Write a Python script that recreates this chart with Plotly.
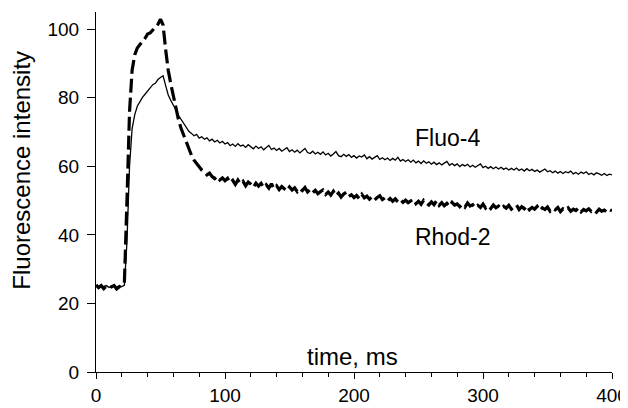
import plotly.graph_objects as go

# sampling grid (ms)
time_ms = list(range(0, 401, 2))

# Fluo-4 trace
fluo_rise = [25.3, 24.8, 25.1, 24.9, 25.2, 24.7, 25.0, 25.3, 24.8, 25.1, 24.9,
             25.3, 38.0, 60.0, 71.0, 75.0, 77.5, 78.9, 80.1, 81.0, 81.9,
             82.6, 83.8, 84.2, 85.3, 85.9, 86.4, 83.5, 80.8, 79.2, 77.9,
             76.4, 74.8, 73.6, 72.3, 71.4, 70.2, 69.6, 68.9, 69.3, 68.2,
             68.6, 67.9, 68.3, 67.4, 67.9, 67.1, 67.6, 66.8, 67.3, 66.5]
fluo_tail1 = [66.9, 66.0, 66.5, 65.8, 66.6, 65.9, 66.2, 65.5, 66.3, 65.6,
              65.1, 65.9, 65.2, 65.7, 64.8, 65.5, 66.1, 64.9, 65.3, 64.6,
              65.2, 64.4, 64.9, 65.4, 64.3, 64.8, 64.1, 64.7, 63.9, 64.5,
              65.2, 64.0, 63.7, 64.4, 63.6, 64.1, 63.5]
fluo_tail2 = [64.2, 63.3, 63.8, 63.0, 63.6, 64.3, 63.1, 62.8, 63.5, 62.9,
              63.4, 62.6, 63.1, 62.4, 63.0, 62.7, 63.3, 62.2, 62.8, 62.1,
              62.6, 63.1, 62.0, 62.5, 61.9, 62.4, 61.7, 62.3, 61.8, 62.6,
              61.5, 62.0, 61.4, 61.9, 61.2]
fluo_tail3 = [61.8, 61.0, 61.5, 60.8, 61.6, 60.9, 61.3, 60.6, 61.2, 60.5,
              61.0, 60.4, 60.9, 61.4, 60.3, 60.8, 60.2, 60.7, 59.9, 60.5,
              60.1, 60.6, 59.8, 60.3, 59.7, 60.2, 60.7, 59.6, 60.0, 59.4,
              59.9, 59.3, 59.8, 59.2, 59.7, 59.1, 59.5, 58.9, 59.4, 58.9]
fluo_tail4 = [59.5, 58.8, 59.2, 58.6, 59.3, 58.7, 59.1, 58.5, 58.9, 58.3,
              58.8, 59.2, 58.4, 58.7, 58.1, 58.6, 58.0, 58.5, 57.9, 58.4,
              58.1, 58.6, 57.8, 58.2, 57.7, 58.3, 57.9, 58.4, 57.6, 58.0,
              57.5, 58.1, 57.8, 57.4, 57.9, 57.3, 57.7, 57.5]

# Rhod-2 trace
rhod_rise = [25.4, 24.6, 25.2, 24.3, 25.1, 25.3, 24.8, 25.2, 24.2, 24.9, 25.5,
             26.0, 50.0, 76.0, 88.0, 92.5, 94.5, 95.6, 96.4, 97.3, 98.6,
             98.9, 99.8, 100.5, 101.4, 102.9, 101.2, 94.0, 88.0, 84.0, 80.5,
             76.5, 73.5, 71.0, 69.0, 67.0, 65.0, 63.2, 61.8, 60.8, 59.7,
             58.9, 58.2, 57.5, 58.0, 57.0, 56.4, 57.1, 56.0, 56.6, 55.8]
rhod_tail1 = [56.5, 55.2, 55.9, 54.7, 56.0, 54.9, 55.6, 54.3, 55.4, 54.8,
              53.9, 55.1, 54.2, 55.0, 53.8, 54.6, 53.6, 54.9, 53.5, 54.3,
              53.2, 54.1, 53.4, 52.8, 54.0, 53.1, 53.7, 52.6, 53.5, 52.9,
              53.8, 52.5, 53.2, 52.3, 53.0, 52.0, 52.6]
rhod_tail2 = [53.1, 51.8, 52.5, 51.6, 52.7, 51.4, 52.2, 51.0, 51.9, 52.4,
              51.2, 51.7, 50.9, 51.5, 50.6, 51.8, 50.8, 51.3, 50.4, 51.1,
              50.2, 50.9, 51.4, 50.3, 50.8, 49.9, 50.6, 49.8, 50.5, 49.6,
              50.3, 49.5, 50.1, 49.4, 49.9]
rhod_tail3 = [50.4, 49.1, 49.8, 48.9, 50.1, 49.3, 48.7, 49.6, 48.8, 49.9,
              48.6, 49.4, 48.5, 49.2, 48.3, 49.5, 48.7, 49.0, 48.2, 48.9,
              48.1, 49.3, 48.4, 48.8, 47.9, 48.6, 48.0, 49.0, 47.8, 48.5,
              47.7, 48.7, 47.9, 48.4, 47.6, 48.3, 47.8, 48.6, 47.5, 48.1]
rhod_tail4 = [48.7, 47.4, 48.2, 47.6, 48.5, 47.3, 48.0, 47.5, 48.3, 47.1,
              47.9, 47.4, 48.1, 46.9, 47.7, 47.3, 48.0, 46.8, 47.6, 47.2,
              47.9, 46.9, 47.5, 47.1, 47.8, 46.7, 47.4, 47.0, 47.6, 46.8,
              47.3, 46.6, 47.5, 46.9, 47.2, 46.7, 47.4, 47.0]

x_ticks = [0, 100, 200, 300, 400]
y_ticks = [0, 20, 40, 60, 80, 100]
series_labels = ["Fluo-4", "Rhod-2"]

fluo = fluo_rise + fluo_tail1 + fluo_tail2 + fluo_tail3 + fluo_tail4
rhod = rhod_rise + rhod_tail1 + rhod_tail2 + rhod_tail3 + rhod_tail4
assert len(fluo) == len(time_ms), len(fluo)
assert len(rhod) == len(time_ms), len(rhod)

FONT = "Liberation Sans, Arial, Helvetica, sans-serif"

fig = go.Figure()
fig.add_trace(go.Scatter(x=time_ms, y=fluo, mode="lines", name=series_labels[0],
                         line=dict(color="black", width=1.3)))
fig.add_trace(go.Scatter(x=time_ms, y=rhod, mode="lines", name=series_labels[1],
                         line=dict(color="black", width=3.2, dash="14px,5px")))

# the page body has an 8px default margin; size the figure to fit the window
fig.update_layout(
    width=620, height=400,
    margin=dict(l=88, r=16, t=4, b=36),
    plot_bgcolor="white", paper_bgcolor="white",
    showlegend=False,
    font=dict(family=FONT, color="black"),
)
fig.update_xaxes(
    range=[0, 400], tickvals=x_ticks, ticks="outside", ticklen=6, tickwidth=1,
    tickcolor="black", showline=True, linecolor="black", linewidth=1,
    showgrid=False, zeroline=False, tickfont=dict(size=19, family=FONT),
    automargin=False,
    minor=dict(dtick=20, ticks="outside", ticklen=4, tickcolor="black", showgrid=False),
)
fig.update_yaxes(
    range=[0, 105], tickvals=y_ticks, ticks="outside", ticklen=8, tickwidth=1,
    tickcolor="black", showline=True, linecolor="black", linewidth=1,
    showgrid=False, zeroline=False, tickfont=dict(size=19, family=FONT),
    ticklabelstandoff=4, automargin=False,
)

fig.add_annotation(text="Fluorescence intensity", xref="paper", yref="paper",
                   x=-0.146, y=0.561, xanchor="center", yanchor="middle",
                   textangle=-90, showarrow=False, font=dict(size=24, family=FONT))
fig.add_annotation(text="time, ms", xref="x", yref="y", x=199, y=4.4,
                   xanchor="center", yanchor="middle", showarrow=False,
                   font=dict(size=24, family=FONT))
fig.add_annotation(text=series_labels[0], xref="x", yref="y", x=272.5, y=68.3,
                   xanchor="center", yanchor="middle", showarrow=False,
                   font=dict(size=23, family=FONT))
fig.add_annotation(text=series_labels[1], xref="x", yref="y", x=276.4, y=39.4,
                   xanchor="center", yanchor="middle", showarrow=False,
                   font=dict(size=23, family=FONT))

fig.write_html("out.html")
